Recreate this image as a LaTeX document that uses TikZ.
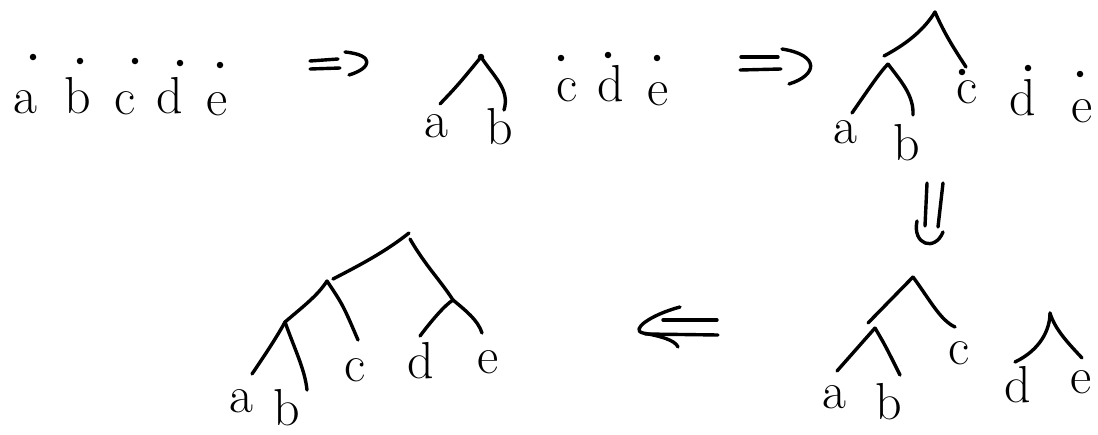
\documentclass[tikz,border=0pt]{standalone}
\begin{document}
\begin{tikzpicture}[x=1pt,y=-1pt,
  stroke/.style={line width=3.4pt,line cap=round,line join=round},
  lbl/.style={anchor=base,inner sep=0pt,font=\fontsize{52}{52}\selectfont},
  pt/.style={circle,fill=black,inner sep=0pt,minimum size=6.5pt}]
\useasboundingbox (0,0) rectangle (1098,434);

% ---------- panel 1 ----------
\node[lbl] (p1a) at (25,113) {a};
\node[lbl] (p1b) at (78,113) {b};
\node[lbl] (p1c) at (125,114) {c};
\node[lbl] (p1d) at (170,113) {d};
\node[lbl] (p1e) at (217,115) {e};
\node[pt] (p1da) at (33,57) {};
\node[pt] (p1db) at (80,61) {};
\node[pt] (p1dc) at (135,61) {};
\node[pt] (p1dd) at (180,63) {};
\node[pt] (p1de) at (220,65) {};

% arrow 1
\coordinate (r1a) at (310,61); \coordinate (r1b) at (338,59);
\coordinate (r1c) at (310,69); \coordinate (r1d) at (340,68);
\coordinate (r1h1) at (345,52); \coordinate (r1h2) at (349,75);
\draw[stroke] (r1a) -- (r1b);
\draw[stroke] (r1c) -- (r1d);
\draw[stroke] (r1h1) .. controls (375,55) and (372,68) .. (r1h2);

% ---------- panel 2 ----------
\coordinate (p2ab) at (481,57);
\coordinate (p2ae) at (440,104);
\coordinate (p2be) at (504,110);
\draw[stroke] (p2ae) .. controls (458,85) .. (p2ab);
\draw[stroke] (p2ab) .. controls (495,78) and (510,90) .. (p2be);
\node[pt] at (p2ab) {};
\node[lbl] (p2a) at (436,137) {a};
\node[lbl] (p2b) at (500,144) {b};
\node[lbl] (p2c) at (567,101) {c};
\node[lbl] (p2d) at (611,101) {d};
\node[lbl] (p2e) at (658,105) {e};
\node[pt] (p2dc) at (561,58) {};
\node[pt] (p2dd) at (608,55) {};
\node[pt] (p2de) at (657,58) {};

% arrow 2
\coordinate (r2a) at (741,57); \coordinate (r2b) at (778,57);
\coordinate (r2c) at (740,70); \coordinate (r2d) at (781,69);
\coordinate (r2h1) at (782,49); \coordinate (r2h2) at (789,84);
\draw[stroke] (r2a) -- (r2b);
\draw[stroke] (r2c) -- (r2d);
\draw[stroke] (r2h1) .. controls (820,55) and (818,75) .. (r2h2);

% ---------- panel 3 ----------
\coordinate (p3r) at (935,12);
\coordinate (p3l) at (884,56);
\coordinate (p3ce) at (966,67);
\coordinate (p3ab) at (888,64);
\coordinate (p3ae) at (852,113);
\coordinate (p3be) at (913,115);
\draw[stroke] (p3l) .. controls (910,42) and (925,28) .. (p3r);
\draw[stroke] (p3r) .. controls (945,35) and (955,50) .. (p3ce);
\draw[stroke] (p3ae) .. controls (868,90) and (880,72) .. (p3ab);
\draw[stroke] (p3ab) .. controls (900,80) and (914,95) .. (p3be);
\node[pt] (p3dc) at (962,72) {};
\node[pt] (p3dd) at (1028,68) {};
\node[pt] (p3de) at (1080,74) {};
\node[lbl] (p3a) at (845,143) {a};
\node[lbl] (p3b) at (907,160) {b};
\node[lbl] (p3c) at (967,103) {c};
\node[lbl] (p3d) at (1023,115) {d};
\node[lbl] (p3e) at (1082,122) {e};

% arrow 3 (down)
\coordinate (r3a) at (927,183); \coordinate (r3b) at (925,226);
\coordinate (r3c) at (943,183); \coordinate (r3d) at (938,227);
\coordinate (r3h1) at (917,221); \coordinate (r3h2) at (943,232);
\draw[stroke] (r3a) -- (r3b);
\draw[stroke] (r3c) -- (r3d);
\draw[stroke] (r3h1) .. controls (912,245) and (935,252) .. (r3h2);

% ---------- panel 4 ----------
\coordinate (p4r) at (913,277);
\coordinate (p4l) at (868,323);
\coordinate (p4ce) at (955,327);
\coordinate (p4ab) at (875,328);
\coordinate (p4ae) at (837,371);
\coordinate (p4be) at (900,375);
\coordinate (p4de) at (1050,313);
\coordinate (p4dee) at (1015,362);
\coordinate (p4ee) at (1082,358);
\draw[stroke] (p4l) -- (p4r);
\draw[stroke] (p4r) .. controls (930,300) and (940,320) .. (p4ce);
\draw[stroke] (p4ae) -- (p4ab);
\draw[stroke] (p4ab) .. controls (885,345) .. (p4be);
\draw[stroke] (p4dee) .. controls (1040,350) and (1050,330) .. (p4de);
\draw[stroke] (p4de) .. controls (1055,330) and (1070,345) .. (p4ee);
\node[lbl] (p4a) at (834,408) {a};
\node[lbl] (p4b) at (889,419) {b};
\node[lbl] (p4c) at (959,364) {c};
\node[lbl] (p4d) at (1018,402) {d};
\node[lbl] (p4e) at (1081,393) {e};

% arrow 4 (left)
\coordinate (r4a) at (663,320); \coordinate (r4b) at (717,320);
\coordinate (r4c) at (645,334); \coordinate (r4d) at (718,335);
\coordinate (r4h1) at (680,307); \coordinate (r4h2) at (678,347);
\draw[stroke] (r4a) -- (r4b);
\draw[stroke] (r4c) -- (r4d);
\draw[stroke] (r4h1) .. controls (650,315) and (630,330) .. (643,333) .. controls (660,336) and (675,340) .. (r4h2);

% ---------- panel 5 ----------
\coordinate (p5r1) at (409,233);
\coordinate (p5r2) at (410,239);
\coordinate (p5abc) at (333,279);
\coordinate (p5abc2) at (327,281);
\coordinate (p5ce) at (358,340);
\coordinate (p5ab) at (285,322);
\coordinate (p5ae) at (252,374);
\coordinate (p5be) at (307,390);
\coordinate (p5de) at (453,300);
\coordinate (p5dee) at (420,336);
\coordinate (p5ee) at (482,333);
\draw[stroke] (p5abc) .. controls (360,265) and (385,252) .. (p5r1);
\draw[stroke] (p5r2) .. controls (425,265) and (440,280) .. (p5de);
\draw[stroke] (p5abc2) .. controls (343,305) .. (p5ce);
\draw[stroke] (p5ab) .. controls (305,305) and (318,295) .. (p5abc2);
\draw[stroke] (p5ae) .. controls (265,355) and (278,335) .. (p5ab);
\draw[stroke] (p5ab) .. controls (295,350) and (305,370) .. (p5be);
\draw[stroke] (p5dee) .. controls (432,320) and (445,305) .. (p5de);
\draw[stroke] (p5de) .. controls (465,310) and (478,320) .. (p5ee);
\node[lbl] (p5a) at (241,412) {a};
\node[lbl] (p5b) at (287,425) {b};
\node[lbl] (p5c) at (355,381) {c};
\node[lbl] (p5d) at (421,378) {d};
\node[lbl] (p5e) at (488,373) {e};
\end{tikzpicture}
\end{document}
